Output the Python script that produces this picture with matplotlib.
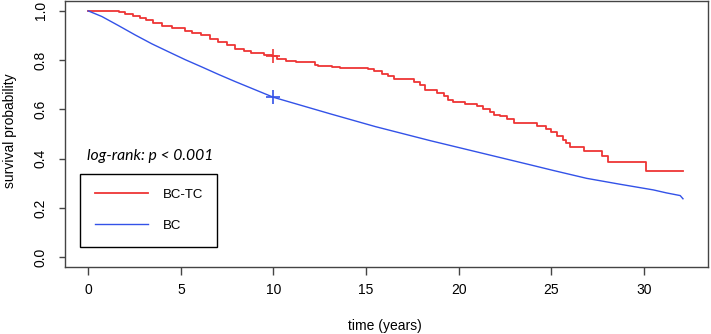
import matplotlib
matplotlib.use("Agg")
import matplotlib.pyplot as plt

# Kaplan-Meier estimates
bctc_time = [0, 1.64, 2.0, 2.4, 2.8, 3.1, 3.5, 4.0, 4.5, 5.2, 5.6, 6.1, 6.6, 7.0,
             7.5, 7.9, 8.4, 8.8, 9.5, 9.9, 10.2, 10.7, 11.2, 12.25, 12.4, 13.15,
             13.6, 15.1, 15.4, 15.85, 16.2, 16.5, 17.6, 17.9, 18.2, 18.8, 19.2,
             19.4, 19.7, 20.35, 21.0, 21.3, 21.7, 21.9, 22.2, 22.6, 23.0, 24.2,
             24.7, 25.0, 25.3, 25.6, 25.8, 26.0, 26.77, 27.75, 28.05, 30.1, 32.1]
bctc_surv = [1.0, 0.995, 0.988, 0.980, 0.970, 0.961, 0.952, 0.940, 0.932, 0.920,
             0.912, 0.900, 0.887, 0.873, 0.860, 0.846, 0.836, 0.828, 0.822, 0.816,
             0.805, 0.798, 0.791, 0.782, 0.778, 0.774, 0.767, 0.762, 0.755, 0.744,
             0.735, 0.724, 0.710, 0.697, 0.679, 0.667, 0.656, 0.640, 0.628, 0.621,
             0.613, 0.602, 0.588, 0.579, 0.572, 0.562, 0.543, 0.533, 0.521, 0.510,
             0.490, 0.476, 0.463, 0.446, 0.429, 0.411, 0.388, 0.349, 0.349]

bc_time = [0, 0.74, 1.64, 2.54, 3.44, 4.33, 5.23, 6.14, 7.03, 7.93, 10.0, 13.06,
           15.5, 18.46, 23.85, 25.1, 26.9, 28.7, 30.5, 31.2, 31.95, 32.1]
bc_surv = [1.0, 0.977, 0.940, 0.902, 0.866, 0.834, 0.802, 0.772, 0.742, 0.713,
           0.649, 0.582, 0.530, 0.473, 0.375, 0.352, 0.320, 0.296, 0.273, 0.261,
           0.250, 0.237]

# censoring marks at 10 years
cens_time = [10.0]
bctc_cens = [0.815]
bc_cens = [0.650]

xticks = [0, 5, 10, 15, 20, 25, 30]
yticks = [0.0, 0.2, 0.4, 0.6, 0.8, 1.0]

red = "#ee3535"
blue = "#3352e8"
grey = "#444444"

plt.rcParams["font.family"] = ["Liberation Sans", "DejaVu Sans"]

fig = plt.figure(figsize=(7.11, 3.34), dpi=100)
ax = fig.add_axes([65 / 711, 67 / 334, 643 / 711, 266 / 334])

ax.plot(bctc_time, bctc_surv, drawstyle="steps-post", color=red, lw=1.3, label="BC-TC")
ax.plot(bc_time, bc_surv, color=blue, lw=1.0, label="BC")
ax.plot(cens_time, bctc_cens, "+", color=red, ms=10, mew=1.2)
ax.plot(cens_time, bc_cens, "+", color=blue, ms=10, mew=1.2)

ax.set_xlim(-1.25, 33.45)
ax.set_ylim(-0.04, 1.04)
ax.set_xticks(xticks)
ax.set_xticklabels([str(t) for t in xticks])
ax.set_yticks(yticks)
ax.set_yticklabels(["%.1f" % v for v in yticks])
for lab in ax.get_yticklabels():
    lab.set_rotation(90)
    lab.set_va("center")

for s in ax.spines.values():
    s.set_color(grey)
    s.set_linewidth(1.0)
ax.tick_params(axis="x", colors=grey, length=5.5, width=1.0, pad=6, labelsize=10,
               labelcolor="black")
ax.tick_params(axis="y", colors=grey, length=4.5, width=1.0, pad=8, labelsize=10,
               labelcolor="black")

ax.set_xlabel("time (years)", fontsize=10)
ax.set_ylabel("survival probability", fontsize=10)
ax.xaxis.set_label_coords(0.498, -0.197)
ax.yaxis.set_label_coords(-0.0747, 0.513)

ax.text(-0.07, 0.41, "log-rank: p < 0.001", fontsize=11.3, style="italic",
        family="Lato", ha="left", va="center")

leg = ax.legend(loc="upper left", bbox_to_anchor=(0.0233, 0.080, 0.2127, 0.271),
                mode="expand", fontsize=9.5, handlelength=4.0, handletextpad=1.1,
                borderpad=1.15, labelspacing=1.4, borderaxespad=0, fancybox=False,
                frameon=True, framealpha=1.0)
leg.get_frame().set_edgecolor("black")
leg.get_frame().set_linewidth(1.0)

fig.savefig("out.png", dpi=100)
